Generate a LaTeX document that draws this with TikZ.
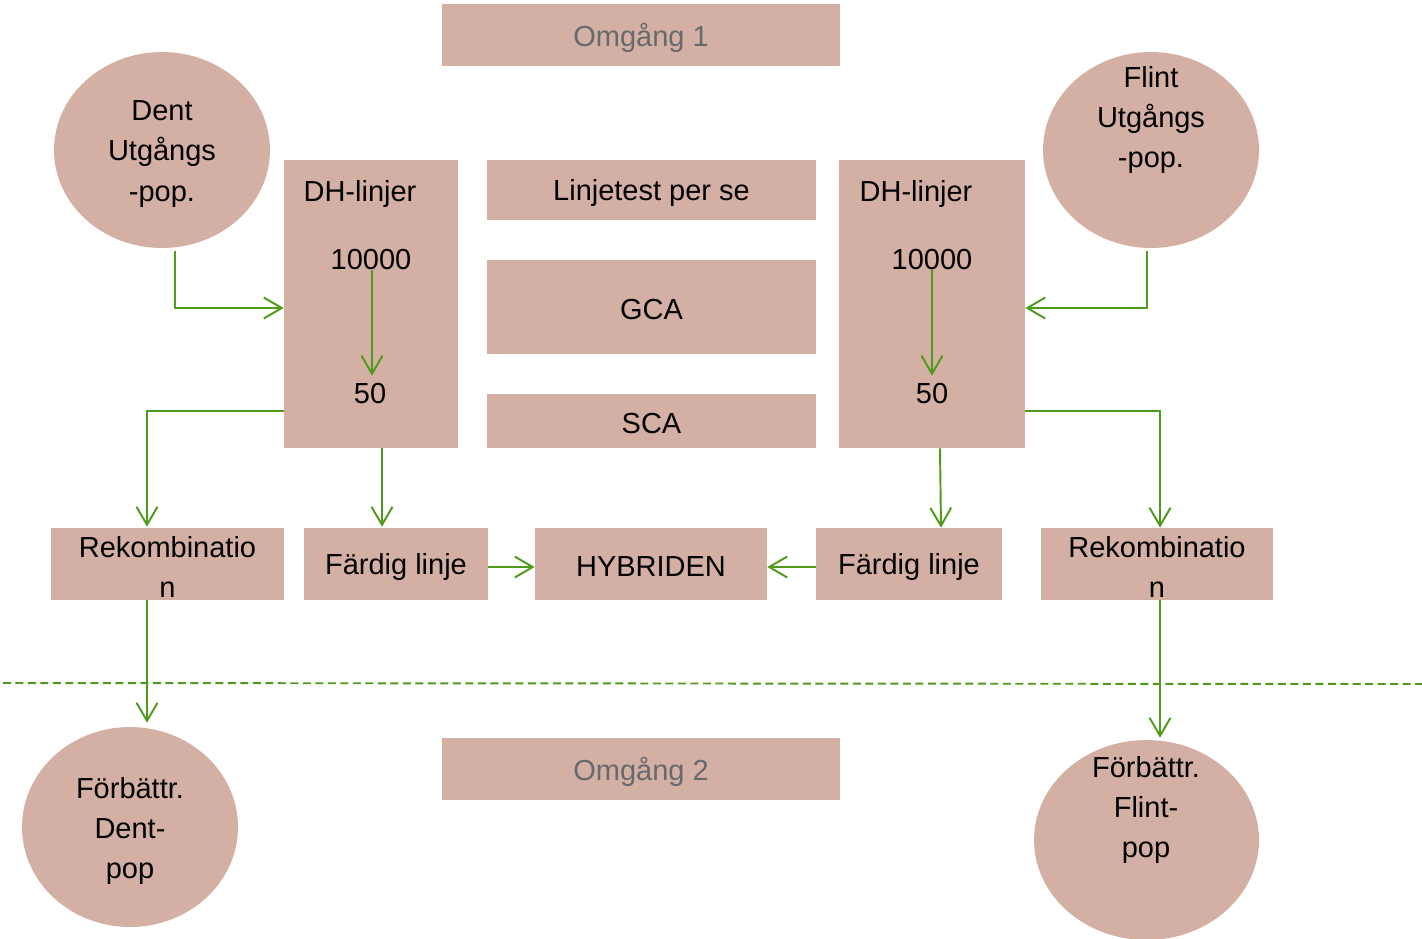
\documentclass[tikz,border=0pt]{standalone}
\usepackage{fontspec}
\setmainfont{Liberation Sans}
\usetikzlibrary{shapes.geometric,arrows.meta}
\definecolor{boxfill}{RGB}{212,176,164}
\definecolor{arrgreen}{RGB}{78,154,26}
\definecolor{graytext}{RGB}{102,106,110}
\tikzset{
  box/.style={rectangle, fill=boxfill, draw=none, inner sep=0pt},
  oval/.style={ellipse, fill=boxfill, draw=none, inner sep=0pt},
  txt/.style={inner sep=1pt, align=center, font=\fsz, yshift=-0.06cm},
  arr/.style={draw=arrgreen, line width=1.1pt, -{Straight Barb[length=0.36cm,width=0.42cm,line width=1.1pt]}},
  sepline/.style={draw=arrgreen, line width=1.1pt, dash pattern=on 0.16cm off 0.09cm}
}
\newcommand{\fsz}{\fontsize{16.5pt}{23pt}\selectfont}
\begin{document}
\begin{tikzpicture}[x=0.02cm,y=-0.02cm]
\useasboundingbox (0,0) rectangle (1422,938);
% top / bottom labels
\node[box, minimum width=7.96cm, minimum height=1.24cm, label={[txt,text=graytext]center:Omgång 1}] (om1) at (641,35) {};
\node[box, minimum width=7.96cm, minimum height=1.24cm, label={[txt,text=graytext]center:Omgång 2}] (om2) at (641,769) {};
% ellipses
\node[oval, minimum width=4.32cm, minimum height=3.92cm] (dent) at (162,150) {};
\node[oval, minimum width=4.32cm, minimum height=3.92cm] (flint) at (1151,150) {};
\node[oval, minimum width=4.32cm, minimum height=4.0cm] (fdent) at (130,827) {};
\node[oval, minimum width=4.5cm, minimum height=4.0cm] (fflint) at (1146.5,840) {};
\node[txt] (dentT) at (162,151) {Dent\\Utgångs\\-pop.};
\node[txt] (flintT) at (1151,117) {Flint\\Utgångs\\-pop.};
\node[txt] (fdentT) at (130,828) {Förbättr.\\Dent-\\pop};
\node[txt] (fflintT) at (1146,807) {Förbättr.\\Flint-\\pop};
% DH boxes
\node[box, minimum width=3.48cm, minimum height=5.76cm] (dhL) at (371,304) {};
\node[box, minimum width=3.72cm, minimum height=5.76cm] (dhR) at (932,304) {};
\node[txt] (dhLt) at (360,191) {DH-linjer};
\node[txt] (dhLa) at (371,257) {10000};
\node[txt] (dhLb) at (370,391) {50};
\node[txt] (dhRt) at (916,191) {DH-linjer};
\node[txt] (dhRa) at (932,257) {10000};
\node[txt] (dhRb) at (932,391) {50};
% middle boxes
\node[box, minimum width=6.58cm, minimum height=1.2cm, label={[txt]center:Linjetest per se}] (lt) at (651.5,190) {};
\node[box, minimum width=6.58cm, minimum height=1.88cm, label={[txt]center:GCA}] (gca) at (651.5,307) {};
\node[box, minimum width=6.58cm, minimum height=1.08cm, label={[txt]center:SCA}] (sca) at (651.5,421) {};
% row boxes
\node[box, minimum width=4.66cm, minimum height=1.44cm, label={[txt]center:{Rekombinatio\\n}}] (rekL) at (167.5,564) {};
\node[box, minimum width=3.68cm, minimum height=1.44cm, label={[txt]center:Färdig linje}] (fdL) at (396,564) {};
\node[box, minimum width=4.64cm, minimum height=1.44cm, label={[txt]center:HYBRIDEN}] (hyb) at (651,564) {};
\node[box, minimum width=3.72cm, minimum height=1.44cm, label={[txt]center:Färdig linje}] (fdR) at (909,564) {};
\node[box, minimum width=4.64cm, minimum height=1.44cm, label={[txt]center:{Rekombinatio\\n}}] (rekR) at (1157,564) {};
% dashed separator
\coordinate (dl) at (3,683);
\coordinate (dr) at (1422,684);
\draw[sepline] (dl) -- (dr);
% connectors
\draw[arr] ([xshift=0.26cm,yshift=-0.06cm]dent.south) |- ([yshift=-0.08cm]dhL.west);
\draw[arr] ([xshift=-0.08cm,yshift=-0.06cm]flint.south) |- ([yshift=-0.08cm]dhR.east);
\draw[arr] ([xshift=0.02cm,yshift=0.04cm]dhLa.south) -- ([xshift=0.04cm,yshift=0.12cm]dhLb.north);
\draw[arr] ([yshift=0.04cm]dhRa.south) -- ([yshift=0.12cm]dhRb.north);
\draw[arr] ([yshift=-2.14cm]dhL.west) -| ([xshift=-0.41cm,yshift=0.02cm]rekL.north);
\draw[arr] ([xshift=0.22cm]dhL.south) -- ([xshift=0.22cm,yshift=0.02cm]dhL.south |- fdL.north);
\draw[arr] ([xshift=0.16cm]dhR.south) -- ([xshift=0.64cm]fdR.north);
\draw[arr] ([yshift=-2.14cm]dhR.east) -| ([xshift=0.06cm]rekR.north);
\draw[arr] ([yshift=-0.06cm]fdL.east) -- ([yshift=-0.06cm]hyb.west);
\draw[arr] ([yshift=-0.06cm]fdR.west) -- ([yshift=-0.06cm]hyb.east);
\draw[arr] ([xshift=-0.41cm]rekL.south) -- ([xshift=-0.41cm,yshift=0.08cm]rekL.south |- fdent.north);
\draw[arr] ([xshift=0.06cm]rekR.south) -- ([xshift=0.06cm,yshift=0.04cm]rekR.south |- fflint.north);
\end{tikzpicture}
\end{document}
